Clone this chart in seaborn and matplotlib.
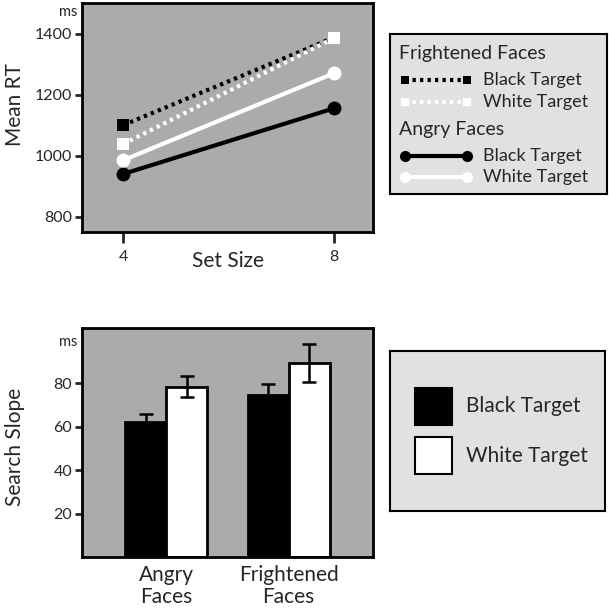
import matplotlib
matplotlib.use("Agg")
import matplotlib.pyplot as plt
import matplotlib.transforms as mtransforms
import pandas as pd
import seaborn as sns

# ---- data ----
set_size = [4, 8]
rt_fright_black = [1100, 1387]
rt_fright_white = [1038, 1385]
rt_angry_white = [985, 1270]
rt_angry_black = [940, 1155]

face_types = ["Angry\nFaces", "Frightened\nFaces"]
targets = ["Black Target", "White Target"]
slope_black = [62, 74.5]
slope_white = [78.5, 89.5]
err_black = [4, 5]
err_white = [4.8, 8.7]

sns.set_style("ticks")
plt.rcParams['font.family'] = ['Lato', 'DejaVu Sans']

PLOT_BG = "#ababab"
LEG_BG = "#e1e1e1"
W = 609

fig = plt.figure(figsize=(6.09, 6.09), dpi=100)


def px_axes(l, t, r, b):
    return fig.add_axes([l / W, 1 - b / W, (r - l) / W, (b - t) / W])


def frame(ax, lw=2):
    for s in ax.spines.values():
        s.set_visible(True)
        s.set_linewidth(lw)
        s.set_color("black")


# ---- top: mean RT ----
ax1 = px_axes(82, 3, 373, 232)
ax1.set_facecolor(PLOT_BG)
frame(ax1)

series = [
    (rt_angry_black, "black", "o", "-", 10),
    (rt_angry_white, "white", "o", "-", 10),
    (rt_fright_black, "black", "s", (0, (0.8, 1.0)), 8),
    (rt_fright_white, "white", "s", (0, (0.8, 1.0)), 8),
]
for vals, col, mk, ls, ms in series:
    sns.lineplot(x=set_size, y=vals, ax=ax1, color=col, marker=mk,
                 linestyle=ls, linewidth=3, markersize=ms,
                 markeredgecolor=col, markeredgewidth=0)

ax1.set_xlim(3.22, 8.74)
ax1.set_ylim(750, 1500)
ax1.set_xticks(set_size)
ax1.set_yticks([800, 1000, 1200, 1400])
ax1.tick_params(axis="y", length=5, width=2, pad=2, labelsize=11.5)
ax1.tick_params(axis="x", length=8, width=2, pad=5, labelsize=11.5)
ax1.set_xlabel("Set Size", fontsize=15)
ax1.xaxis.set_label_coords(0.5, -0.085)
ax1.set_ylabel("Mean RT", fontsize=15)
ax1.yaxis.set_label_coords(-0.195, 0.556)
tr1 = mtransforms.blended_transform_factory(ax1.transAxes, ax1.transData)
ax1.text(-0.017, 1470, "ms", transform=tr1, ha="right", va="center", fontsize=10.5)

# ---- bottom: search slope ----
ax2 = px_axes(82, 328, 373, 557)
ax2.set_facecolor(PLOT_BG)
frame(ax2)

df = pd.DataFrame({
    "face": face_types * 2,
    "target": [targets[0]] * 2 + [targets[1]] * 2,
    "slope": slope_black + slope_white,
    "err": err_black + err_white,
})
sns.barplot(data=df, x="face", y="slope", hue="target", hue_order=targets,
            order=face_types, palette=["black", "white"], width=0.67, gap=0,
            edgecolor="black", linewidth=2, errorbar=None, legend=False, ax=ax2)

# bars come in hue order: all black, then all white
errs = err_black + err_white
for patch, e in zip(ax2.patches, errs):
    cx = patch.get_x() + patch.get_width() / 2
    ax2.errorbar(cx, patch.get_height(), yerr=e, fmt="none", ecolor="black",
                 elinewidth=1.8, capsize=5, capthick=1.8)

ax2.set_xlim(-0.69, 1.69)
ax2.set_ylim(0, 105.5)
ax2.set_yticks([20, 40, 60, 80])
ax2.tick_params(axis="y", length=5, width=2, pad=2, labelsize=11.5)
ax2.tick_params(axis="x", length=0, pad=6, labelsize=15)
for lab in ax2.get_xticklabels():
    lab.set_linespacing(1.1)
ax2.set_xlabel("")
ax2.set_ylabel("Search Slope", fontsize=15)
ax2.yaxis.set_label_coords(-0.195, 0.48)
tr2 = mtransforms.blended_transform_factory(ax2.transAxes, ax2.transData)
ax2.text(-0.017, 99, "ms", transform=tr2, ha="right", va="center", fontsize=10.5)

# ---- legend boxes (drawn in pixel units inside their own axes) ----
lg1 = px_axes(390, 34, 607, 194)
lg1.set_facecolor(LEG_BG)
frame(lg1, 1.5)
lg1.set_xlim(0, 217)
lg1.set_ylim(160, 0)
lg1.set_xticks([])
lg1.set_yticks([])
rows = [
    ("Frightened Faces", None, 19),
    ("Black Target", series[2], 46),
    ("White Target", series[3], 68),
    ("Angry Faces", None, 95),
    ("Black Target", series[0], 122),
    ("White Target", series[1], 143),
]
for label, sty, y in rows:
    if sty is None:
        lg1.text(9, y, label, ha="left", va="center", fontsize=14)
    else:
        _, col, mk, ls, ms = sty
        lg1.plot([15, 77], [y, y], color=col, linestyle=ls, linewidth=3,
                 marker=mk, markersize=ms * 0.8, markeredgewidth=0)
        lg1.text(93, y, label, ha="left", va="center", fontsize=13)

lg2 = px_axes(390, 351, 605, 511)
lg2.set_facecolor(LEG_BG)
frame(lg2, 1.5)
lg2.set_xlim(0, 215)
lg2.set_ylim(160, 0)
lg2.set_xticks([])
lg2.set_yticks([])
for label, col, y0 in [(targets[0], "black", 37), (targets[1], "white", 86)]:
    lg2.add_patch(plt.Rectangle((25, y0), 37, 37, facecolor=col,
                                edgecolor="black", linewidth=1.5))
    lg2.text(76, y0 + 18.5, label, ha="left", va="center", fontsize=15)

fig.savefig("out.png", dpi=100, facecolor="white")
